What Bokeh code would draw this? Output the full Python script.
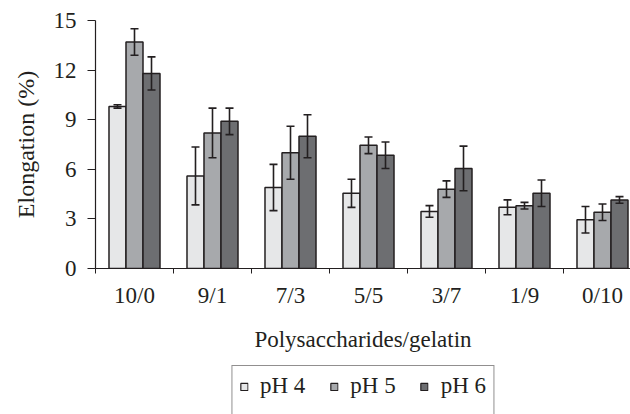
from bokeh.plotting import figure
from bokeh.layouts import column
from bokeh.models import (ColumnDataSource, Range1d, FixedTicker, Whisker, TeeHead,
                          Legend, LegendItem)
from bokeh.embed import file_html
from bokeh.resources import INLINE

# ---- data ----
categories = ["10/0", "9/1", "7/3", "5/5", "3/7", "1/9", "0/10"]
series_names = ["pH 4", "pH 5", "pH 6"]
ph4 = [9.8, 5.6, 4.9, 4.55, 3.45, 3.7, 2.95]
ph4_err = [0.1, 1.75, 1.4, 0.85, 0.35, 0.45, 0.8]
ph5 = [13.7, 8.2, 7.0, 7.45, 4.8, 3.8, 3.4]
ph5_err = [0.8, 1.5, 1.6, 0.5, 0.5, 0.2, 0.5]
ph6 = [11.8, 8.9, 8.0, 6.85, 6.05, 4.55, 4.15]
ph6_err = [1.0, 0.8, 1.3, 0.8, 1.35, 0.8, 0.2]
y_ticks = [0, 3, 6, 9, 12, 15]

# ---- styles ----
FONT = "Liberation Serif"
DARK = "#231f20"
colors = ["#e6e7e8", "#a7a9ac", "#6d6e71"]
bar_w = 0.218
offsets = [-bar_w, 0.0, bar_w]

p = figure(width=630, height=364, output_backend="svg", toolbar_location=None,
           x_range=Range1d(0, 535 / 78), y_range=Range1d(0, 15),
           min_border_left=95, min_border_right=0, min_border_top=20,
           min_border_bottom=96)
p.outline_line_color = None
p.xgrid.grid_line_color = None
p.ygrid.grid_line_color = None

values = [ph4, ph5, ph6]
errors = [ph4_err, ph5_err, ph6_err]
for name, vals, errs, col, off in zip(series_names, values, errors, colors, offsets):
    xs = [i + 0.5 + off for i in range(len(categories))]
    src = ColumnDataSource(dict(
        x=xs, top=vals,
        upper=[v + e for v, e in zip(vals, errs)],
        lower=[v - e for v, e in zip(vals, errs)]))
    p.vbar(x="x", top="top", width=bar_w, source=src, fill_color=col,
           line_color=DARK, line_width=1.5)
    w = Whisker(base="x", upper="upper", lower="lower", source=src,
                dimension="height", line_color=DARK, line_width=1.6,
                level="overlay",
                upper_head=TeeHead(size=8, line_color=DARK, line_width=1.6),
                lower_head=TeeHead(size=8, line_color=DARK, line_width=1.6))
    p.add_layout(w)

# ---- x axis ----
xa = p.xaxis[0]
xa.ticker = FixedTicker(ticks=[i + 0.5 for i in range(len(categories))],
                        minor_ticks=list(range(len(categories) + 1)))
xa.major_label_overrides = {i + 0.5: c for i, c in enumerate(categories)}
xa.major_tick_line_color = None
xa.minor_tick_line_color = DARK
xa.minor_tick_out = 5
xa.minor_tick_in = 0
xa.axis_line_color = DARK
xa.axis_line_width = 1.2
xa.major_label_text_font = FONT
xa.major_label_text_font_size = "23px"
xa.major_label_text_color = DARK
xa.major_label_standoff = 8
xa.axis_label = "Polysaccharides/gelatin"
xa.axis_label_text_font = FONT
xa.axis_label_text_font_size = "23px"
xa.axis_label_text_font_style = "normal"
xa.axis_label_text_color = DARK
xa.axis_label_standoff = 16

# ---- y axis ----
ya = p.yaxis[0]
ya.ticker = FixedTicker(ticks=y_ticks)
ya.major_tick_out = 8
ya.major_tick_in = 0
ya.major_tick_line_color = DARK
ya.minor_tick_line_color = None
ya.axis_line_color = DARK
ya.axis_line_width = 1.2
ya.major_label_text_font = FONT
ya.major_label_text_font_size = "23px"
ya.major_label_text_color = DARK
ya.major_label_standoff = 11
ya.axis_label = "Elongation (%)"
ya.axis_label_text_font = FONT
ya.axis_label_text_font_size = "24px"
ya.axis_label_text_font_style = "normal"
ya.axis_label_text_color = DARK
ya.axis_label_standoff = 12

# ---- legend (separate strip below the chart) ----
q = figure(width=630, height=50, output_backend="svg", toolbar_location=None,
           x_range=Range1d(0, 1), y_range=Range1d(0, 1),
           min_border_left=95, min_border_right=0, min_border_top=1,
           min_border_bottom=0)
q.axis.visible = False
q.grid.visible = False
q.outline_line_color = None
items = []
for name, col in zip(series_names, colors):
    # proxy renderer (outside the visible range) only used for the legend key
    r = q.vbar(x=[-5], top=[-5], width=bar_w, fill_color=col, line_color=DARK,
               line_width=1.2)
    items.append(LegendItem(label=name, renderers=[r]))
lg = Legend(items=items, orientation="horizontal", location="top_center")
lg.label_text_font = FONT
lg.label_text_font_size = "23px"
lg.label_text_color = DARK
lg.glyph_width = 9
lg.glyph_height = 9
lg.label_standoff = 12
lg.spacing = 24
lg.padding = 7
lg.margin = 0
lg.border_line_color = DARK
lg.border_line_width = 1.2
lg.background_fill_alpha = 1
lg.title = " "
lg.title_location = "below"
lg.title_text_font_size = "23px"
q.add_layout(lg)

layout = column(p, q, spacing=0)
open("out.html", "w").write(file_html(layout, INLINE))
